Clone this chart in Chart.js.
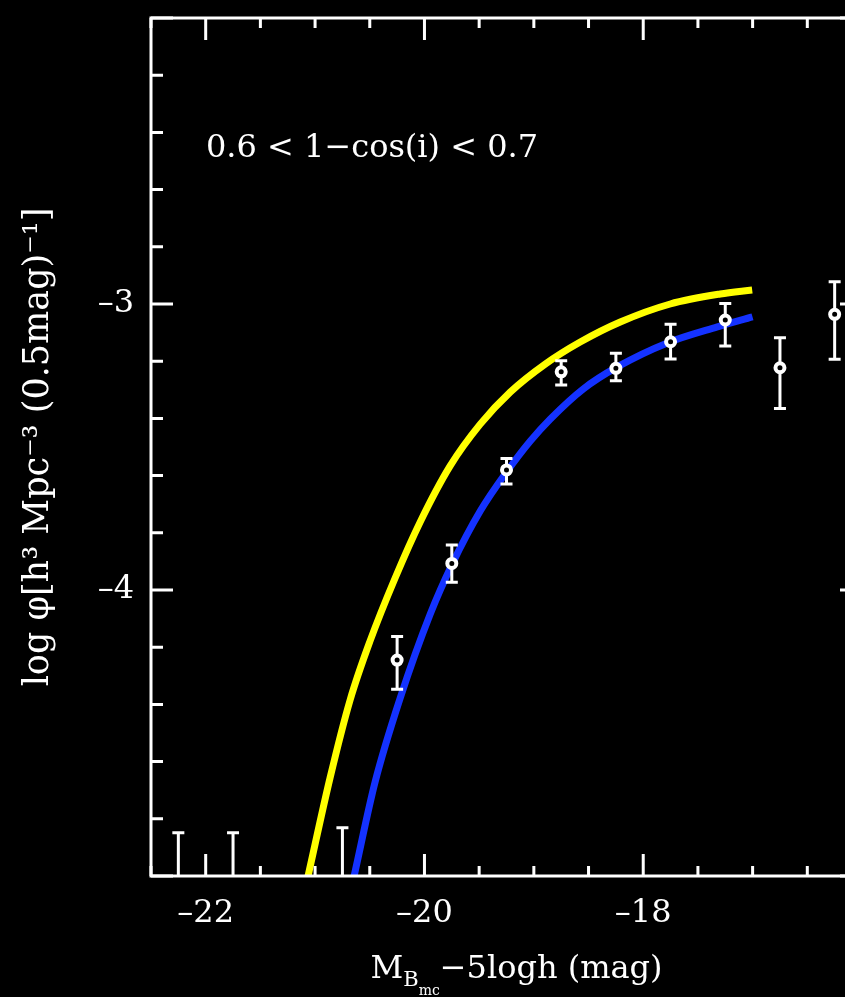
<!DOCTYPE html>
<html>
<head>
<meta charset="utf-8">
<script src="https://cdn.jsdelivr.net/npm/chart.js@4.4.0/dist/chart.umd.min.js"></script>
<style>
html, body { margin: 0; padding: 0; background: #000; overflow: hidden; }
canvas { display: block; }
</style>
</head>
<body>
<canvas id="lf" width="880" height="997"></canvas>
<script>
// binned luminosity function, 0.6 < 1-cos(i) < 0.7
const binMag = [-22.25, -21.75, -20.75, -20.25, -19.75, -19.25, -18.75, -18.25, -17.75, -17.25, -16.75, -16.25]
const logPhi = [-5.5, -5.5, -5.5, -4.245, -3.907, -3.580, -3.237, -3.225, -3.132, -3.056, -3.223, -3.036]
const errHi = [-4.849, -4.849, -4.831, -4.163, -3.843, -3.540, -3.198, -3.172, -3.071, -2.998, -3.118, -2.922]
const errLo = [-6.0, -6.0, -6.0, -4.347, -3.973, -3.629, -3.283, -3.268, -3.192, -3.147, -3.365, -3.193]

// fitted curves
const yellowMag = [-21.064, -20.863, -20.680, -20.497, -20.268, -20.039, -19.765, -19.490, -19.216, -18.896, -18.576, -18.210, -17.753, -17.296, -17.004]
const yellowLogPhi = [-5.0, -4.657, -4.385, -4.178, -3.958, -3.762, -3.566, -3.420, -3.308, -3.210, -3.133, -3.063, -3.000, -2.965, -2.951]
const blueMag = [-20.643, -20.451, -20.222, -19.947, -19.746, -19.490, -19.243, -19.032, -18.849, -18.548, -18.237, -17.779, -17.322, -17.001]
const blueLogPhi = [-5.0, -4.671, -4.378, -4.084, -3.909, -3.724, -3.584, -3.479, -3.402, -3.297, -3.220, -3.136, -3.080, -3.045]

const xTitle = [['M', 32, 0], ['B', 21, 8], ['mc', 14, 17], ['\u22125logh (mag)', 32, 0]]
const yTitle = 'log \u03c6[h\u00b3 Mpc\u207b\u00b3 (0.5mag)\u207b\u00b9]'
const note = '0.6 < 1\u2212cos(i) < 0.7'
const xLabels = [-22, -20, -18]
const yLabels = [-4, -3]

const serif = 'DejaVu Serif'

const toXY = (xs, ys) => xs.map((v, i) => ({ x: v, y: ys[i] }))
const fmt = (v) => '\u2013' + Math.abs(v)

const framePlugin = {
    id: 'frame',
    beforeDatasetDraw(chart, args) {
        if (args.index !== 0) return
        const { ctx, chartArea: a, scales: { x, y } } = chart
        ctx.save()
        ctx.beginPath()
        ctx.rect(a.left, a.top, a.right - a.left, a.bottom - a.top)
        ctx.clip()
        ctx.strokeStyle = '#fff'
        ctx.lineWidth = 3
        binMag.forEach((m, i) => {
            const px = x.getPixelForValue(m)
            const top = y.getPixelForValue(errHi[i])
            const bot = y.getPixelForValue(errLo[i])
            ctx.beginPath()
            ctx.moveTo(px, top)
            ctx.lineTo(px, bot)
            ctx.moveTo(px - 6, top)
            ctx.lineTo(px + 6, top)
            ctx.moveTo(px - 6, bot)
            ctx.lineTo(px + 6, bot)
            ctx.stroke()
        })
        ctx.restore()
    },
    afterDraw(chart) {
        const { ctx, chartArea: a, scales: { x, y } } = chart
        ctx.save()
        ctx.strokeStyle = '#fff'
        ctx.lineWidth = 3
        ctx.strokeRect(a.left, a.top, a.right - a.left, a.bottom - a.top)

        // inward ticks on all four sides
        ctx.beginPath()
        for (let k = 0; k <= 13; k++) {
            const v = -22.5 + k * 0.5
            const px = x.getPixelForValue(v)
            const len = v % 2 === 0 ? 22 : 10
            ctx.moveTo(px, a.bottom)
            ctx.lineTo(px, a.bottom - len)
            ctx.moveTo(px, a.top)
            ctx.lineTo(px, a.top + len)
        }
        for (let k = 0; k <= 15; k++) {
            const py = y.getPixelForValue(-5 + k * 0.2)
            const len = k % 5 === 0 ? 22 : 12
            ctx.moveTo(a.left, py)
            ctx.lineTo(a.left + len, py)
            ctx.moveTo(a.right, py)
            ctx.lineTo(a.right - len, py)
        }
        ctx.stroke()

        ctx.fillStyle = '#fff'
        ctx.textBaseline = 'alphabetic'
        ctx.textAlign = 'left'
        ctx.font = '32px "' + serif + '"'
        ctx.fillText(note, a.left + 55, a.top + 139)

        // x title with subscripts
        let w = 0
        xTitle.forEach(([t, size]) => {
            ctx.font = size + 'px "' + serif + '"'
            w += ctx.measureText(t).width
        })
        let cx = (a.left + a.right) / 2 - w / 2 + 10
        const base = 978
        xTitle.forEach(([t, size, dy]) => {
            ctx.font = size + 'px "' + serif + '"'
            ctx.fillText(t, cx, base + dy)
            cx += ctx.measureText(t).width
        })
        ctx.restore()
    },
}

new Chart(document.getElementById('lf'), {
    type: 'scatter',
    data: {
        datasets: [
            {
                data: toXY(binMag, logPhi),
                pointStyle: 'circle',
                pointRadius: 4.5,
                pointBorderWidth: 4,
                pointBorderColor: '#fff',
                pointBackgroundColor: '#000',
                order: 0,
            },
            {
                data: toXY(blueMag, blueLogPhi),
                showLine: true,
                borderColor: '#1432ff',
                borderWidth: 7,
                pointRadius: 0,
                cubicInterpolationMode: 'monotone',
                clip: 0,
                order: 1,
            },
            {
                data: toXY(yellowMag, yellowLogPhi),
                showLine: true,
                borderColor: '#ffff00',
                borderWidth: 7,
                pointRadius: 0,
                cubicInterpolationMode: 'monotone',
                clip: 0,
                order: 2,
            },
        ],
    },
    options: {
        responsive: false,
        animation: false,
        layout: { padding: { top: 18, right: 18, left: 0, bottom: 0 } },
        plugins: { legend: { display: false }, tooltip: { enabled: false } },
        scales: {
            x: {
                type: 'linear',
                min: -22.5,
                max: -16,
                grid: { display: false },
                border: { display: false },
                afterFit: (s) => {
                    s.height = 121
                    s.paddingLeft = 0
                    s.paddingRight = 0
                },
                afterBuildTicks: (s) => { s.ticks = xLabels.map((v) => ({ value: v })) },
                ticks: {
                    autoSkip: false,
                    maxRotation: 0,
                    padding: 10,
                    color: '#fff',
                    font: { family: serif, size: 32 },
                    callback: fmt,
                },
            },
            y: {
                min: -5,
                max: -2,
                grid: { display: false },
                border: { display: false },
                afterFit: (s) => {
                    s.width = 151
                    s.paddingTop = 0
                    s.paddingBottom = 0
                },
                afterBuildTicks: (s) => { s.ticks = yLabels.map((v) => ({ value: v })) },
                ticks: {
                    padding: 9,
                    color: '#fff',
                    font: { family: serif, size: 32 },
                    callback: fmt,
                },
                title: {
                    display: true,
                    text: yTitle,
                    color: '#fff',
                    font: { family: serif, size: 35 },
                    padding: { top: 18, bottom: 0 },
                },
            },
        },
    },
    plugins: [framePlugin],
})
</script>
</body>
</html>
